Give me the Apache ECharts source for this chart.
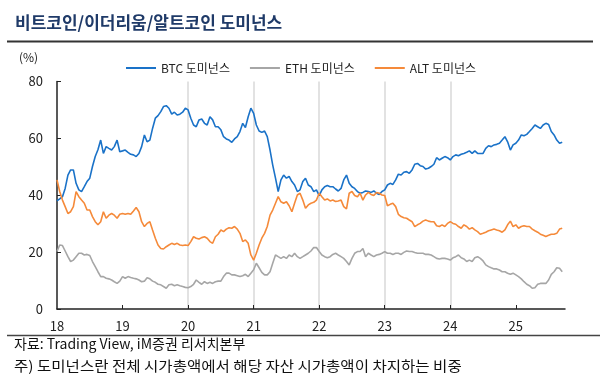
<!DOCTYPE html>
<html><head><meta charset="utf-8">
<script src="https://cdn.jsdelivr.net/npm/echarts@6/dist/echarts.min.js"></script>
<style>html,body{margin:0;padding:0;background:#fff}#c{width:600px;height:391px}</style>
</head><body><div id="c"></div>
<script>
const dates = [
'2018-01-01','2018-01-16','2018-02-01','2018-02-16','2018-03-01','2018-03-16','2018-04-01','2018-04-16','2018-05-01','2018-05-16','2018-06-01','2018-06-16',
'2018-07-01','2018-07-16','2018-08-01','2018-08-16','2018-09-01','2018-09-16','2018-10-01','2018-10-16','2018-11-01','2018-11-16','2018-12-01','2018-12-16',
'2019-01-01','2019-01-16','2019-02-01','2019-02-16','2019-03-01','2019-03-16','2019-04-01','2019-04-16','2019-05-01','2019-05-16','2019-06-01','2019-06-16',
'2019-07-01','2019-07-16','2019-08-01','2019-08-16','2019-09-01','2019-09-16','2019-10-01','2019-10-16','2019-11-01','2019-11-16','2019-12-01','2019-12-16',
'2020-01-01','2020-01-16','2020-02-01','2020-02-16','2020-03-01','2020-03-16','2020-04-01','2020-04-16','2020-05-01','2020-05-16','2020-06-01','2020-06-16',
'2020-07-01','2020-07-16','2020-08-01','2020-08-16','2020-09-01','2020-09-16','2020-10-01','2020-10-16','2020-11-01','2020-11-16','2020-12-01','2020-12-16',
'2021-01-01','2021-01-16','2021-02-01','2021-02-16','2021-03-01','2021-03-16','2021-04-01','2021-04-16','2021-05-01','2021-05-16','2021-06-01','2021-06-16',
'2021-07-01','2021-07-16','2021-08-01','2021-08-16','2021-09-01','2021-09-16','2021-10-01','2021-10-16','2021-11-01','2021-11-16','2021-12-01','2021-12-16',
'2022-01-01','2022-01-16','2022-02-01','2022-02-16','2022-03-01','2022-03-16','2022-04-01','2022-04-16','2022-05-01','2022-05-16','2022-06-01','2022-06-16',
'2022-07-01','2022-07-16','2022-08-01','2022-08-16','2022-09-01','2022-09-16','2022-10-01','2022-10-16','2022-11-01','2022-11-16','2022-12-01','2022-12-16',
'2023-01-01','2023-01-16','2023-02-01','2023-02-16','2023-03-01','2023-03-16','2023-04-01','2023-04-16','2023-05-01','2023-05-16','2023-06-01','2023-06-16',
'2023-07-01','2023-07-16','2023-08-01','2023-08-16','2023-09-01','2023-09-16','2023-10-01','2023-10-16','2023-11-01','2023-11-16','2023-12-01','2023-12-16',
'2024-01-01','2024-01-16','2024-02-01','2024-02-16','2024-03-01','2024-03-16','2024-04-01','2024-04-16','2024-05-01','2024-05-16','2024-06-01','2024-06-16',
'2024-07-01','2024-07-16','2024-08-01','2024-08-16','2024-09-01','2024-09-16','2024-10-01','2024-10-16','2024-11-01','2024-11-16','2024-12-01','2024-12-16',
'2025-01-01','2025-01-16','2025-02-01','2025-02-16','2025-03-01','2025-03-16','2025-04-01','2025-04-16','2025-05-01','2025-05-16','2025-06-01','2025-06-16',
'2025-07-01','2025-07-16','2025-08-01','2025-08-16','2025-09-01','2025-09-16'
];
const btc = [
38.0,38.7,39.5,42.4,47.1,48.9,48.9,44.2,41.9,41.3,43.0,44.8,46.0,50.1,53.6,56.0,59.4,54.7,57.1,56.5,55.9,57.1,59.4,55.3,
55.6,55.9,55.1,54.4,54.2,53.6,54.7,57.1,61.2,58.8,59.4,63.5,67.1,68.0,69.4,71.2,71.5,70.6,68.5,69.2,68.2,68.5,69.2,70.6,
70.0,67.1,64.7,64.1,66.5,66.8,65.3,64.7,67.6,66.5,64.1,64.1,63.0,60.6,59.8,59.4,58.6,59.8,60.6,62.4,65.3,63.8,67.6,70.6,
68.8,64.7,62.6,62.1,62.6,60.6,55.9,50.6,46.0,41.3,45.4,47.1,46.0,46.6,44.8,43.6,41.3,41.9,44.8,46.0,43.6,43.0,41.3,41.9,
39.9,41.9,43.0,43.4,43.0,43.0,42.2,41.5,42.4,45.4,47.1,44.2,43.0,42.4,41.3,40.7,41.0,41.5,41.3,41.0,41.5,40.7,40.3,41.3,
41.9,43.6,44.2,43.8,45.4,47.4,47.1,48.1,48.3,47.7,48.9,50.9,51.2,50.4,50.1,49.2,49.5,50.1,50.9,53.2,52.4,53.0,53.6,53.2,
52.4,53.6,54.2,53.9,54.4,54.7,55.1,55.6,54.7,55.6,54.7,54.7,54.7,56.5,57.4,57.1,57.7,57.9,58.3,59.4,60.6,58.8,55.9,57.7,
58.3,59.4,61.2,60.9,61.4,62.4,63.5,64.7,64.1,63.5,64.7,65.3,64.9,62.4,61.2,59.4,58.3,58.6
];
const eth = [
20.2,22.5,22.3,20.4,18.4,16.7,17.2,18.4,19.6,19.6,19.0,19.2,18.8,16.7,14.9,13.1,11.4,11.4,10.8,10.6,10.2,9.6,9.0,9.8,
11.4,10.8,11.4,11.1,10.8,10.6,10.2,9.6,9.8,11.0,10.6,9.8,9.4,8.7,8.5,7.9,7.3,8.5,8.7,8.2,8.5,8.2,7.9,7.6,
7.5,7.9,8.7,10.2,9.4,8.7,9.6,9.0,9.4,9.0,9.6,9.8,9.8,11.4,12.6,12.6,12.0,12.0,11.7,11.4,11.7,12.2,11.4,12.6,
13.8,16.1,14.5,12.9,12.0,12.0,13.1,16.1,19.0,18.4,17.8,18.4,17.8,19.0,18.4,19.6,18.4,17.8,18.4,19.0,19.6,20.4,21.6,21.6,
20.2,19.0,18.4,18.0,18.4,19.2,19.6,19.0,18.4,17.8,16.7,15.5,17.8,19.6,20.2,20.2,21.3,18.4,19.6,19.0,18.4,19.0,19.2,19.6,
20.2,19.6,19.6,19.2,19.6,19.6,19.2,19.9,20.4,20.2,20.2,19.9,19.6,19.6,19.6,19.2,19.2,19.0,18.4,17.8,17.6,17.8,17.8,17.6,
17.2,18.0,18.4,19.0,18.0,17.6,16.7,17.2,16.7,18.0,18.4,17.8,16.9,15.5,14.9,14.5,14.1,14.1,13.7,13.1,13.1,12.6,12.2,12.6,
12.0,11.4,10.6,9.6,8.7,8.2,7.3,7.5,8.7,9.0,9.0,9.0,10.2,12.2,13.1,14.5,14.3,13.1
];
const alt = [
45.4,41.3,38.3,36.0,33.6,34.2,36.0,41.3,39.5,38.3,37.2,34.8,34.8,32.5,30.7,29.6,30.7,34.2,31.9,33.0,33.6,33.0,31.9,33.3,
33.6,33.3,33.6,33.3,34.5,35.7,34.2,30.7,29.0,30.1,30.7,27.8,24.9,22.5,21.3,21.1,21.9,22.5,23.1,22.7,23.1,22.5,22.3,22.5,
22.3,23.7,25.4,24.9,24.6,25.1,25.4,24.9,23.7,23.1,25.4,26.3,27.8,27.2,28.1,28.6,28.4,29.0,28.1,26.6,23.7,24.3,23.1,19.0,
17.2,19.6,22.5,24.9,26.6,29.0,33.0,34.8,37.2,39.5,37.7,37.2,37.7,36.3,34.2,37.2,40.1,40.7,38.3,35.4,36.6,37.2,37.5,38.3,
40.7,39.5,38.3,38.7,38.0,38.3,37.8,38.0,38.3,36.0,35.2,40.7,41.3,39.9,39.5,40.7,38.3,40.1,41.0,40.3,39.9,41.0,40.7,40.1,
39.9,36.3,36.8,37.2,36.0,33.3,32.5,32.1,31.9,31.3,30.7,29.0,29.6,30.1,30.9,31.3,30.9,30.7,30.7,29.3,29.0,29.6,29.0,30.1,
30.7,30.1,29.8,29.0,28.4,29.6,29.0,28.1,28.6,27.8,27.2,26.3,26.6,27.0,27.5,27.8,28.1,27.8,27.5,27.0,27.8,29.6,30.9,29.0,
29.6,28.4,29.0,29.3,29.0,29.0,28.1,27.5,27.0,26.3,25.9,25.5,25.9,26.3,26.3,26.6,28.1,28.4
];
const yTicks = [0, 20, 40, 60, 80];
const xYears = [2018, 2019, 2020, 2021, 2022, 2023, 2024, 2025];
const seriesNames = ['BTC 도미넌스', 'ETH 도미넌스', 'ALT 도미넌스'];

function toYear(s) {
  const p = s.split('-').map(Number);
  return p[0] + (p[1] - 1) / 12 + (p[2] - 1) / 365;
}
const xs = dates.map(toYear);
const pair = arr => arr.map((v, i) => [xs[i], v]);

const FONT = "'Noto Sans CJK KR', 'Noto Sans', sans-serif";
const chart = echarts.init(document.getElementById('c'), null, {renderer: 'canvas'});
chart.setOption({
  animation: false,
  textStyle: {fontFamily: FONT},
  grid: {left: 57, right: 35, top: 81.5, bottom: 82, containLabel: false},
  legend: {
    data: seriesNames, left: 121, top: 57, itemWidth: 30, itemHeight: 2, itemGap: 20,
    icon: 'rect', textStyle: {fontSize: 12, color: '#222', fontFamily: FONT}
  },
  xAxis: {
    type: 'value', min: 2018, max: 2025.75, interval: 1,
    axisLine: {show: true, lineStyle: {color: '#222', width: 1.5}},
    axisTick: {show: true, inside: true, length: 4, lineStyle: {color: '#222'}, customValues: xYears.slice(1)},
    axisLabel: {customValues: xYears, formatter: v => String(Math.round(v)).slice(2), fontSize: 13, color: '#222', margin: 11},
    splitLine: {show: true, showMinLine: false, showMaxLine: false, lineStyle: {color: '#d9d9d9', width: 1.5}}
  },
  yAxis: {
    type: 'value', min: 0, max: 80, interval: 20,
    axisLine: {show: true, lineStyle: {color: '#222', width: 1.5}},
    axisTick: {show: true, inside: true, length: 4, lineStyle: {color: '#222'}},
    axisLabel: {fontSize: 13, color: '#222', margin: 14, customValues: yTicks},
    splitLine: {show: false}
  },
  series: [
    {name: seriesNames[0], type: 'line', data: pair(btc), symbol: 'none', color: '#1a72c8', lineStyle: {width: 1.6}},
    {name: seriesNames[1], type: 'line', data: pair(eth), symbol: 'none', color: '#a6a6a6', lineStyle: {width: 1.6}},
    {name: seriesNames[2], type: 'line', data: pair(alt), symbol: 'none', color: '#f58a3a', lineStyle: {width: 1.6}}
  ],
  graphic: [
    {type: 'text', x: 15, y: 14, style: {text: '비트코인/이더리움/알트코인 도미넌스', font: "bold 17px " + FONT, fill: '#1f3a68'}},
    {type: 'line', shape: {x1: 7, y1: 41.5, x2: 593, y2: 41.5}, style: {stroke: '#333', lineWidth: 2}},
    {type: 'text', x: 19, y: 51, style: {text: '(%)', font: "12px " + FONT, fill: '#222'}},
    {type: 'line', shape: {x1: 7, y1: 335.5, x2: 600, y2: 335.5}, style: {stroke: '#444', lineWidth: 1.5}},
    {type: 'text', x: 14, y: 337, style: {text: '자료: Trading View, iM증권 리서치본부', font: "14px " + FONT, fill: '#111'}},
    {type: 'text', x: 14, y: 359, scaleX: 1.11, style: {text: '주) 도미넌스란 전체 시가총액에서 해당 자산 시가총액이 차지하는 비중', font: "14px " + FONT, fill: '#111'}}
  ]
});
</script>
</body></html>
